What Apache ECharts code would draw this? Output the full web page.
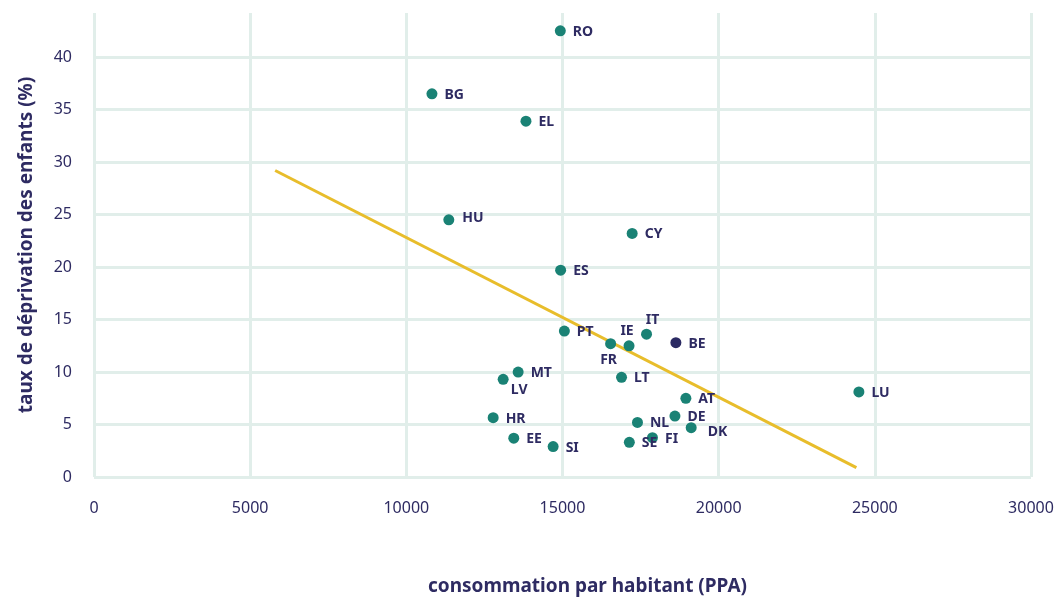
<!DOCTYPE html>
<html>
<head>
<meta charset="utf-8">
<script src="https://cdn.jsdelivr.net/npm/echarts@6/dist/echarts.min.js"></script>
<style>html,body{margin:0;padding:0;background:#fff}#c{width:1058px;height:601px}</style>
</head>
<body>
<div id="c"></div>
<script>
const countries = ['RO','BG','EL','HU','CY','ES','PT','FR','IE','IT','BE','MT','LV','LT','AT','HR','NL','DE','DK','FI','SE','EE','SI','LU'];
const consumption = [14930,10820,13830,11360,17230,14940,15060,16540,17130,17690,18630,13580,13100,16890,18950,12780,17400,18600,19120,17880,17140,13440,14700,24490];
const deprivation = [42.5,36.5,33.9,24.5,23.2,19.7,13.9,12.7,12.5,13.6,12.8,10.0,9.3,9.5,7.5,5.65,5.2,5.8,4.7,3.75,3.3,3.7,2.9,8.1];
const highlight = ['BE'];
const trendX = [5800, 24410];
const trendY = [29.2, 0.9];
const xTicks = [0,5000,10000,15000,20000,25000,30000];
const yTicks = [0,5,10,15,20,25,30,35,40];

const textColor = '#2e2b62';
const teal = '#1a8275';
const navy = '#2b2a63';
const gridColor = '#e1eeea';
const fontFamily = '"Noto Sans", "Open Sans", sans-serif';

const labelOverrides = {
  FR: {position: 'bottom', distance: 4, offset: [-2, 0]},
  IE: {position: 'top', distance: 2, offset: [-2, 0]},
  IT: {position: 'top', distance: 2, offset: [6, 0]},
  LV: {position: 'bottom', distance: -2, offset: [16, 0]},
  DK: {position: 'right', distance: 11, offset: [0, 4]},
  HU: {position: 'right', distance: 8, offset: [0, -2]}
};

const points = countries.map((c, i) => {
  const item = {name: c, value: [consumption[i], deprivation[i]]};
  if (highlight.includes(c)) item.itemStyle = {color: navy};
  if (labelOverrides[c]) item.label = labelOverrides[c];
  return item;
});

const chart = echarts.init(document.getElementById('c'), null, {renderer: 'canvas'});
chart.setOption({
  animation: false,
  backgroundColor: '#fff',
  textStyle: {fontFamily: fontFamily},
  grid: {left: 94, right: 27, top: 13, bottom: 124, containLabel: false},
  xAxis: {
    type: 'value',
    min: xTicks[0], max: xTicks[xTicks.length - 1], interval: 5000,
    name: 'consommation par habitant (PPA)',
    nameLocation: 'middle', nameGap: 100,
    nameTextStyle: {color: textColor, fontSize: 19, fontWeight: 'bold', fontFamily: fontFamily, padding: [0, 0, 0, 50]},
    axisLine: {show: false}, axisTick: {show: false},
    axisLabel: {color: textColor, fontSize: 16, margin: 23, fontFamily: fontFamily,
      formatter: v => xTicks.includes(v) ? String(v) : ''},
    splitLine: {show: true, lineStyle: {color: gridColor, width: 3}}
  },
  yAxis: {
    type: 'value',
    min: 0, max: 44.2, interval: 5,
    name: 'taux de déprivation des enfants (%)',
    nameLocation: 'middle', nameGap: 58,
    nameTextStyle: {color: textColor, fontSize: 19, fontWeight: 'bold', fontFamily: fontFamily},
    axisLine: {show: false}, axisTick: {show: false},
    axisLabel: {color: textColor, fontSize: 16, margin: 22, showMaxLabel: false, fontFamily: fontFamily,
      formatter: v => yTicks.includes(v) ? String(v) : ''},
    splitLine: {show: true, showMaxLine: false, lineStyle: {color: gridColor, width: 3}}
  },
  series: [
    {
      type: 'line',
      data: trendX.map((x, i) => [x, trendY[i]]),
      symbol: 'none',
      lineStyle: {color: '#e8bd2b', width: 3},
      silent: true,
      z: 2
    },
    {
      type: 'scatter',
      data: points,
      symbolSize: 11,
      itemStyle: {color: teal, opacity: 1},
      label: {
        show: true,
        position: 'right',
        distance: 7,
        offset: [0, 1],
        formatter: p => p.name,
        color: textColor,
        fontSize: 14,
        fontWeight: 'bold',
        fontFamily: fontFamily
      },
      z: 3
    }
  ]
});
</script>
</body>
</html>
